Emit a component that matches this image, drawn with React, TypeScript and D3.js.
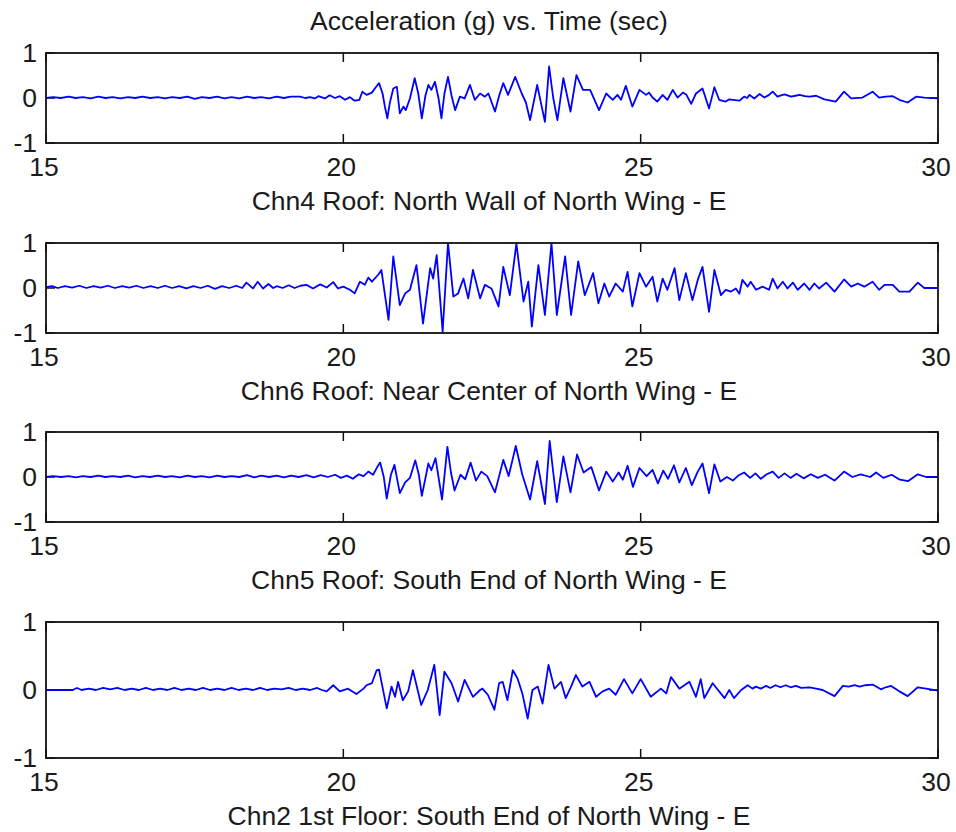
import React from "react"
import * as d3 from "d3"

const chartTitle = "Acceleration (g) vs. Time (sec)"
const timeTicks = [15, 20, 25, 30]
const accelTicks = [-1, 0, 1]
const channelLabels = [
  "Chn4 Roof: North Wall of North Wing - E",
  "Chn6 Roof: Near Center of North Wing - E",
  "Chn5 Roof: South End of North Wing - E",
  "Chn2 1st Floor: South End of North Wing - E",
]

// [time (sec), acceleration (g)]
const chn4: [number, number][] = [
  [15.0, 0.0], [15.12, 0.02], [15.25, 0.0], [15.38, 0.03], [15.5, 0.0], [15.62, 0.02],
  [15.75, -0.01], [15.88, 0.03], [16.0, 0.0], [16.12, 0.02], [16.25, -0.01], [16.38, 0.02],
  [16.5, 0.0], [16.62, 0.03], [16.75, 0.0], [16.88, 0.02], [17.0, -0.01], [17.12, 0.02],
  [17.25, 0.0], [17.38, 0.03], [17.5, -0.02], [17.62, 0.02], [17.75, 0.0], [17.88, 0.03],
  [18.0, -0.01], [18.12, 0.02], [18.25, -0.01], [18.38, 0.03], [18.5, 0.0], [18.62, 0.02],
  [18.75, -0.01], [18.88, 0.03], [19.0, 0.0], [19.12, 0.03], [19.27, 0.03], [19.36, 0.0],
  [19.44, 0.02], [19.52, -0.01], [19.58, 0.04], [19.69, -0.01], [19.77, 0.06], [19.86, 0.0],
  [19.94, 0.04], [20.03, -0.04], [20.11, 0.02], [20.19, -0.06], [20.27, -0.04], [20.32, 0.14],
  [20.39, 0.07], [20.48, 0.12], [20.53, 0.21], [20.6, 0.33], [20.66, 0.1], [20.7, -0.2],
  [20.74, -0.45], [20.78, -0.12], [20.84, 0.21], [20.9, 0.25], [20.95, -0.34], [21.01, -0.19],
  [21.05, -0.27], [21.12, -0.01], [21.2, 0.44], [21.26, 0.1], [21.32, -0.45], [21.38, 0.05],
  [21.43, 0.29], [21.48, 0.18], [21.54, 0.36], [21.6, 0.0], [21.65, -0.45], [21.7, 0.1],
  [21.76, 0.47], [21.82, 0.05], [21.88, -0.27], [21.96, 0.03], [22.04, -0.01], [22.13, 0.29],
  [22.21, -0.04], [22.3, 0.1], [22.38, 0.03], [22.44, 0.1], [22.55, -0.3], [22.62, 0.05],
  [22.69, 0.33], [22.77, 0.07], [22.89, 0.47], [23.0, 0.1], [23.07, -0.1], [23.14, -0.49],
  [23.26, 0.29], [23.39, -0.53], [23.46, 0.7], [23.53, 0.0], [23.6, -0.49], [23.7, 0.44],
  [23.82, -0.3], [23.92, 0.51], [24.03, 0.18], [24.15, 0.18], [24.3, -0.27], [24.42, 0.1],
  [24.53, -0.04], [24.61, 0.07], [24.67, -0.04], [24.75, 0.27], [24.86, -0.19], [24.98, 0.18],
  [25.09, 0.07], [25.14, 0.12], [25.2, 0.01], [25.28, -0.08], [25.37, 0.07], [25.45, -0.04],
  [25.54, 0.18], [25.62, 0.01], [25.71, 0.12], [25.77, 0.07], [25.85, -0.13], [25.93, 0.1],
  [26.04, 0.21], [26.15, -0.23], [26.24, 0.24], [26.32, -0.04], [26.43, -0.08], [26.49, -0.03],
  [26.55, -0.04], [26.66, -0.06], [26.74, 0.03], [26.79, 0.0], [26.83, 0.07], [26.91, -0.01],
  [27.0, 0.09], [27.08, 0.01], [27.16, 0.07], [27.22, 0.14], [27.3, 0.03], [27.36, 0.06],
  [27.42, 0.08], [27.53, 0.03], [27.6, 0.05], [27.67, 0.07], [27.76, 0.04], [27.84, 0.03],
  [27.95, 0.05], [28.09, -0.03], [28.28, -0.08], [28.42, 0.14], [28.54, -0.01], [28.73, 0.01],
  [28.9, 0.14], [29.01, 0.01], [29.12, 0.03], [29.24, 0.04], [29.35, -0.04], [29.49, -0.1],
  [29.63, 0.03], [29.77, 0.01], [30.0, -0.01],
]

const chn6: [number, number][] = [
  [15.0, 0.02], [15.1, 0.04], [15.2, 0.0], [15.32, 0.04], [15.44, 0.01], [15.56, 0.05],
  [15.68, 0.0], [15.8, 0.04], [15.92, 0.01], [16.04, 0.05], [16.16, 0.0], [16.28, 0.04],
  [16.4, 0.01], [16.52, 0.05], [16.64, 0.0], [16.76, 0.04], [16.88, 0.0], [17.0, 0.05],
  [17.12, 0.0], [17.24, 0.04], [17.36, -0.01], [17.48, 0.04], [17.6, 0.0], [17.72, 0.05],
  [17.84, -0.02], [17.96, 0.04], [18.08, 0.0], [18.2, 0.05], [18.3, 0.0], [18.37, 0.12],
  [18.48, -0.01], [18.56, 0.14], [18.65, -0.01], [18.74, 0.09], [18.82, 0.0], [18.88, 0.04],
  [18.98, 0.0], [19.08, 0.06], [19.18, 0.0], [19.28, 0.05], [19.38, 0.07], [19.49, -0.01],
  [19.61, 0.08], [19.72, 0.01], [19.83, 0.13], [19.91, -0.01], [20.0, 0.03], [20.11, -0.04],
  [20.19, -0.12], [20.28, 0.14], [20.36, 0.07], [20.42, 0.23], [20.48, 0.14], [20.59, 0.3],
  [20.64, 0.4], [20.76, -0.71], [20.84, 0.7], [20.95, -0.38], [21.04, -0.12], [21.12, -0.04],
  [21.23, 0.51], [21.34, -0.79], [21.46, 0.44], [21.51, 0.21], [21.57, 0.73], [21.67, -0.97],
  [21.76, 1.0], [21.85, -0.19], [21.93, -0.12], [22.02, 0.21], [22.1, -0.23], [22.18, 0.4],
  [22.3, -0.23], [22.38, 0.07], [22.49, -0.01], [22.61, -0.41], [22.69, 0.47], [22.8, -0.16],
  [22.91, 0.99], [23.03, -0.3], [23.11, 0.14], [23.17, -0.86], [23.28, 0.51], [23.39, -0.6],
  [23.5, 1.0], [23.59, -0.6], [23.73, 0.7], [23.83, -0.6], [23.95, 0.59], [24.06, -0.16],
  [24.2, 0.33], [24.29, -0.34], [24.39, 0.1], [24.47, -0.19], [24.58, 0.1], [24.7, -0.08],
  [24.78, 0.36], [24.86, -0.41], [24.98, 0.33], [25.09, 0.03], [25.2, 0.25], [25.28, -0.3],
  [25.37, 0.21], [25.45, -0.04], [25.57, 0.44], [25.65, -0.27], [25.76, 0.33], [25.87, -0.27],
  [25.96, 0.18], [26.04, 0.47], [26.15, -0.53], [26.24, 0.4], [26.35, -0.16], [26.43, -0.04],
  [26.52, -0.08], [26.6, -0.01], [26.66, -0.13], [26.71, 0.18], [26.8, 0.03], [26.85, 0.14],
  [26.94, -0.04], [27.05, 0.03], [27.16, -0.04], [27.22, 0.21], [27.3, -0.01], [27.39, 0.14],
  [27.47, -0.01], [27.56, 0.12], [27.64, -0.04], [27.75, 0.1], [27.84, -0.04], [27.92, 0.1],
  [28.0, -0.01], [28.12, 0.12], [28.26, -0.08], [28.42, 0.19], [28.54, 0.03], [28.65, 0.1],
  [28.76, 0.03], [28.9, 0.14], [29.01, -0.04], [29.1, 0.07], [29.24, 0.07], [29.35, -0.08],
  [29.52, -0.08], [29.66, 0.12], [29.77, 0.0], [30.0, 0.0],
]

const chn5: [number, number][] = [
  [15.0, 0.0], [15.12, 0.02], [15.25, 0.0], [15.38, 0.02], [15.5, -0.01], [15.62, 0.02],
  [15.75, 0.0], [15.88, 0.03], [16.0, 0.0], [16.12, 0.02], [16.25, 0.0], [16.38, 0.03],
  [16.5, -0.01], [16.62, 0.02], [16.75, 0.0], [16.88, 0.03], [17.0, 0.0], [17.12, 0.02],
  [17.25, -0.01], [17.38, 0.03], [17.5, 0.0], [17.62, 0.02], [17.75, -0.01], [17.88, 0.03],
  [18.0, 0.0], [18.12, 0.02], [18.25, 0.0], [18.38, 0.04], [18.5, -0.01], [18.62, 0.03],
  [18.75, 0.0], [18.88, 0.03], [19.0, -0.01], [19.12, 0.03], [19.25, 0.0], [19.38, 0.04],
  [19.5, -0.01], [19.62, 0.04], [19.74, 0.0], [19.86, 0.05], [19.96, -0.02], [20.06, 0.03],
  [20.16, -0.04], [20.26, 0.06], [20.34, 0.02], [20.42, 0.12], [20.5, 0.05], [20.57, 0.22],
  [20.62, 0.32], [20.68, 0.0], [20.73, -0.48], [20.8, 0.05], [20.86, 0.27], [20.95, -0.36],
  [21.04, -0.12], [21.12, -0.02], [21.21, 0.37], [21.27, 0.05], [21.32, -0.42], [21.43, 0.3],
  [21.48, 0.15], [21.55, 0.42], [21.66, -0.5], [21.75, 0.67], [21.81, 0.1], [21.87, -0.3],
  [21.97, 0.05], [22.05, -0.05], [22.14, 0.32], [22.23, -0.08], [22.32, 0.12], [22.42, 0.02],
  [22.55, -0.34], [22.69, 0.38], [22.78, 0.02], [22.9, 0.69], [23.01, 0.05], [23.14, -0.5],
  [23.26, 0.35], [23.39, -0.6], [23.47, 0.8], [23.53, 0.1], [23.59, -0.56], [23.7, 0.46],
  [23.82, -0.34], [23.93, 0.5], [24.04, 0.1], [24.17, 0.22], [24.3, -0.3], [24.42, 0.12],
  [24.53, -0.1], [24.63, 0.1], [24.7, -0.06], [24.78, 0.25], [24.87, -0.22], [24.98, 0.2],
  [25.1, 0.02], [25.2, 0.16], [25.29, -0.14], [25.38, 0.14], [25.46, -0.04], [25.56, 0.26],
  [25.65, -0.12], [25.76, 0.2], [25.86, -0.18], [25.96, 0.12], [26.04, 0.3], [26.15, -0.36],
  [26.24, 0.28], [26.34, -0.1], [26.45, 0.0], [26.55, -0.08], [26.65, 0.04], [26.74, 0.1],
  [26.84, -0.02], [26.93, 0.08], [27.02, -0.04], [27.12, 0.06], [27.22, 0.12], [27.32, -0.02],
  [27.42, 0.08], [27.52, -0.02], [27.62, 0.07], [27.74, -0.03], [27.86, 0.06], [27.98, -0.02],
  [28.1, 0.05], [28.26, -0.08], [28.42, 0.12], [28.56, 0.0], [28.7, 0.06], [28.86, 0.0],
  [28.96, 0.1], [29.08, -0.02], [29.22, 0.05], [29.36, -0.06], [29.5, -0.09], [29.66, 0.06],
  [29.8, 0.0], [30.0, 0.0],
]

const chn2: [number, number][] = [
  [15.0, 0.0], [15.45, 0.0], [15.52, 0.03], [15.6, 0.0], [15.72, 0.02], [15.84, 0.0],
  [15.96, 0.03], [16.08, 0.01], [16.2, 0.03], [16.32, 0.0], [16.44, 0.02], [16.56, 0.0],
  [16.68, 0.03], [16.8, 0.0], [16.92, 0.02], [17.04, 0.0], [17.16, 0.03], [17.28, 0.0],
  [17.4, 0.02], [17.52, 0.0], [17.64, 0.03], [17.76, 0.0], [17.88, 0.02], [18.0, 0.0],
  [18.12, 0.03], [18.24, 0.0], [18.36, 0.02], [18.48, 0.0], [18.6, 0.03], [18.72, 0.0],
  [18.84, 0.02], [18.96, 0.01], [19.08, 0.03], [19.2, 0.0], [19.32, 0.02], [19.44, 0.0],
  [19.56, 0.03], [19.64, 0.0], [19.72, -0.02], [19.83, 0.07], [19.94, -0.02], [20.08, 0.02],
  [20.22, -0.06], [20.34, 0.02], [20.39, 0.07], [20.48, 0.1], [20.56, 0.29], [20.6, 0.3],
  [20.73, -0.27], [20.81, 0.05], [20.87, -0.1], [20.92, 0.12], [21.0, -0.15], [21.09, -0.02],
  [21.17, 0.29], [21.31, -0.22], [21.42, 0.0], [21.53, 0.37], [21.62, -0.37], [21.7, 0.27],
  [21.82, 0.1], [21.93, -0.17], [22.04, 0.15], [22.18, -0.1], [22.3, 0.0], [22.34, 0.02],
  [22.43, -0.07], [22.54, -0.29], [22.62, 0.1], [22.68, 0.12], [22.76, -0.15], [22.85, 0.29],
  [22.93, 0.17], [23.01, -0.05], [23.1, -0.42], [23.18, 0.0], [23.27, 0.05], [23.35, -0.2],
  [23.45, 0.37], [23.55, 0.02], [23.66, 0.12], [23.74, -0.12], [23.83, 0.05], [23.91, 0.22],
  [24.02, 0.05], [24.14, 0.12], [24.25, -0.1], [24.36, -0.02], [24.47, 0.02], [24.58, -0.07],
  [24.72, 0.16], [24.86, -0.05], [25.0, 0.16], [25.17, -0.1], [25.34, 0.02], [25.43, -0.05],
  [25.51, 0.19], [25.65, 0.02], [25.82, 0.12], [25.93, -0.1], [26.01, 0.16], [26.07, -0.12],
  [26.21, 0.1], [26.41, -0.12], [26.49, 0.0], [26.57, -0.12], [26.69, 0.0], [26.8, 0.07],
  [26.88, 0.02], [26.94, 0.05], [27.02, 0.02], [27.11, 0.06], [27.18, 0.03], [27.27, 0.07],
  [27.35, 0.04], [27.44, 0.07], [27.52, 0.04], [27.61, 0.06], [27.7, 0.03], [27.84, 0.04],
  [27.95, 0.02], [28.06, 0.0], [28.26, -0.09], [28.4, 0.06], [28.5, 0.05], [28.6, 0.07],
  [28.68, 0.05], [28.78, 0.07], [28.9, 0.08], [29.04, 0.01], [29.12, 0.04], [29.21, 0.06],
  [29.35, -0.02], [29.49, -0.09], [29.66, 0.04], [29.8, 0.02], [30.0, -0.01],
]

const records = [chn4, chn6, chn5, chn2]

// axes boxes, in page pixels
const plotLeft = 46
const plotRight = 938
const boxes = [
  { top: 53, bottom: 143 },
  { top: 243, bottom: 333 },
  { top: 432, bottom: 522 },
  { top: 622, bottom: 758 },
]

const font = "'Liberation Sans', Arial, sans-serif"
const tickLen = 9

const App = () => {
  const x = d3.scaleLinear().domain([15, 30]).range([plotLeft, plotRight])

  return (
    <svg
      width={956}
      height={832}
      style={{ position: "absolute", left: 0, top: 0, background: "#fff" }}
      fontFamily={font}
      fontSize={26.5}
      fill="#1a1a1a"
    >
      <rect width={956} height={832} fill="#fff" />
      <text x={489} y={30} textAnchor="middle">
        {chartTitle}
      </text>
      {boxes.map((b, i) => {
        const y = d3.scaleLinear().domain([-1, 1]).range([b.bottom, b.top])
        const line = d3
          .line<[number, number]>()
          .x((d) => x(d[0]))
          .y((d) => y(d[1]))
        return (
          <g key={i}>
            <defs>
              <clipPath id={`clip${i}`}>
                <rect x={plotLeft} y={b.top} width={plotRight - plotLeft} height={b.bottom - b.top} />
              </clipPath>
            </defs>
            {/* tick marks inside the box */}
            {timeTicks.map((t) => (
              <g key={t} stroke="#111" strokeWidth={1.5}>
                <line x1={x(t)} x2={x(t)} y1={b.top} y2={b.top + tickLen} />
                <line x1={x(t)} x2={x(t)} y1={b.bottom} y2={b.bottom - tickLen} />
              </g>
            ))}
            {accelTicks.map((v) => (
              <g key={v} stroke="#111" strokeWidth={1.5}>
                <line x1={plotLeft} x2={plotLeft + tickLen} y1={y(v)} y2={y(v)} />
                <line x1={plotRight} x2={plotRight - tickLen} y1={y(v)} y2={y(v)} />
              </g>
            ))}
            <path
              d={line(records[i]) ?? ""}
              fill="none"
              stroke="#0000ff"
              strokeWidth={1.8}
              strokeLinejoin="round"
              clipPath={`url(#clip${i})`}
            />
            <rect
              x={plotLeft}
              y={b.top}
              width={plotRight - plotLeft}
              height={b.bottom - b.top}
              fill="none"
              stroke="#111"
              strokeWidth={1.8}
            />
            {accelTicks.map((v) => (
              <text key={v} x={37} y={y(v) + 9} textAnchor="end">
                {v}
              </text>
            ))}
            {timeTicks.map((t) => (
              <text key={t} x={x(t) - 2} y={b.bottom + 33} textAnchor="middle">
                {t}
              </text>
            ))}
            <text x={489} y={b.bottom + 67} textAnchor="middle">
              {channelLabels[i]}
            </text>
          </g>
        )
      })}
    </svg>
  )
}

export default App
